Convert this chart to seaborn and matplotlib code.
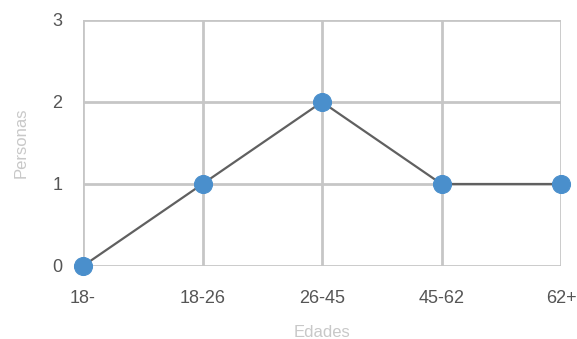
import matplotlib
matplotlib.use("Agg")
import matplotlib.pyplot as plt
import seaborn as sns
import pandas as pd

categories = ["18-", "18-26", "26-45", "45-62", "62+"]
values = [0, 1, 2, 1, 1]
y_ticks = [0, 1, 2, 3]

sns.set_style("white")
plt.rcParams['font.family'] = ['Liberation Sans', 'DejaVu Sans']

df = pd.DataFrame({"Edades": categories, "Personas": values})

fig = plt.figure(figsize=(5.77, 3.39), dpi=100)
ax = fig.add_axes([83/577, 1-266/339, (561-83)/577, (266-20)/339])

sns.lineplot(data=df, x="Edades", y="Personas", ax=ax, color="#606060",
             linewidth=1.6, marker="o", markersize=13, markerfacecolor="#4a8fcc",
             markeredgecolor="#4a8fcc", clip_on=False, zorder=5, sort=False)

ax.set_xlim(0, len(categories) - 1)
ax.set_ylim(0, 3)
ax.set_yticks(y_ticks)
ax.set_xticks(range(len(categories)))
ax.set_xticklabels(categories)
for s in ax.spines.values():
    s.set_visible(False)
ax.grid(True, color="#c6c6c6", linewidth=2.0)
ax.set_axisbelow(True)
ax.tick_params(axis="both", length=0, labelsize=13, labelcolor="#555555")
ax.tick_params(axis="x", pad=17)
ax.tick_params(axis="y", pad=15)
ax.set_xlabel("Edades", color="#c8c8c8", fontsize=12, labelpad=13)
ax.set_ylabel("Personas", color="#c8c8c8", fontsize=12, labelpad=17)

fig.savefig("out.png", dpi=100)
